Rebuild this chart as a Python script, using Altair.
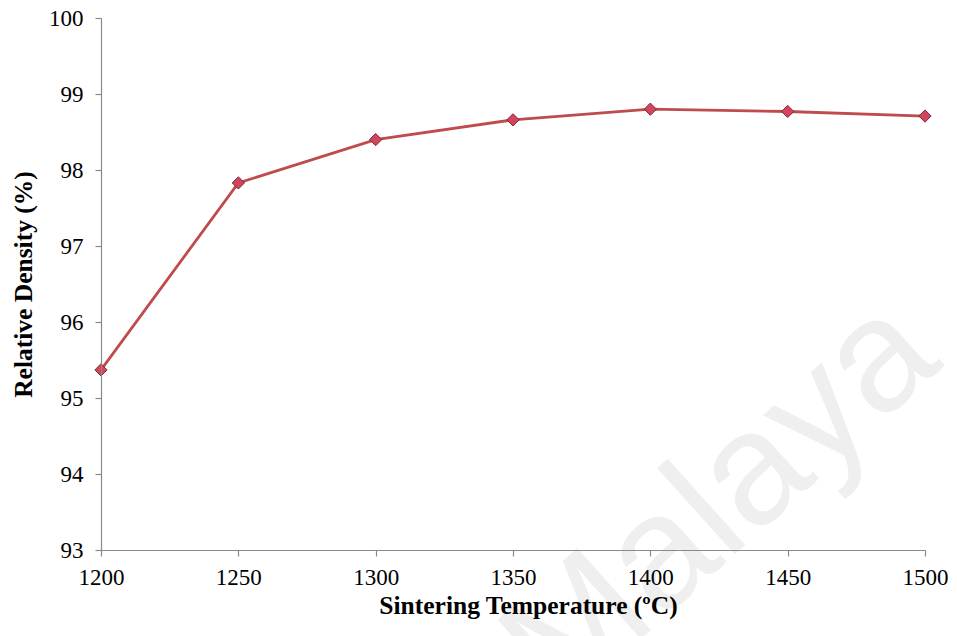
import altair as alt
import pandas as pd

# Sintering temperature (°C) and measured relative density (%)
temperature = [1200, 1250, 1300, 1350, 1400, 1450, 1500]
density = [95.37, 97.83, 98.40, 98.66, 98.80, 98.77, 98.71]

df = pd.DataFrame({"temp": temperature, "density": density})

serif = "Liberation Serif"

axis_style = dict(
    grid=False,
    zindex=1,
    labelFlush=False,
    labelFont=serif, labelFontSize=23, labelColor="#000", labelFontWeight="normal",
    titleFont=serif, titleFontSize=25.5, titleFontWeight="bold", titleColor="#000",
    domainColor="#8a8a8a", tickColor="#8a8a8a", tickSize=6,
    domainWidth=1.2, tickWidth=1.2,
    format="d",
)

x = alt.X(
    "temp:Q",
    scale=alt.Scale(domain=[1200, 1500], nice=False, zero=False),
    axis=alt.Axis(
        values=[1200, 1250, 1300, 1350, 1400, 1450, 1500],
        title="Sintering Temperature (ºC)",
        labelPadding=10,
        titlePadding=4,
        titleX=427,
        **axis_style,
    ),
)
y = alt.Y(
    "density:Q",
    scale=alt.Scale(domain=[93, 100], nice=False, zero=False),
    axis=alt.Axis(
        values=[93, 94, 95, 96, 97, 98, 99, 100],
        title="Relative Density (%)",
        labelPadding=12,
        titlePadding=12,
        **axis_style,
    ),
)

line = alt.Chart(df).mark_line(color="#BF4B4D", strokeWidth=2.8).encode(x=x, y=y)
points = alt.Chart(df).mark_point(
    shape="diamond", filled=True, size=150, fill="#D2455C",
    stroke="#7A2A33", strokeWidth=1, opacity=1,
).encode(x=x, y=y)

watermark = alt.Chart(pd.DataFrame({"t": ["Malaya"]})).mark_text(
    font="Liberation Sans", fontSize=160, color="#EFEFEF", angle=318,
    align="center", baseline="middle",
).encode(text="t:N", x=alt.value(620), y=alt.value(484))

chart = (
    alt.layer(watermark, line, points)
    .properties(
        width=824, height=532,
        autosize=alt.AutoSizeParams(type="none"),
        padding={"left": 101, "top": 18, "right": 32, "bottom": 86},
        background="white",
    )
    .configure_view(stroke=None)
)

chart.save("out.html", embed_options={"renderer": "svg", "actions": False})
